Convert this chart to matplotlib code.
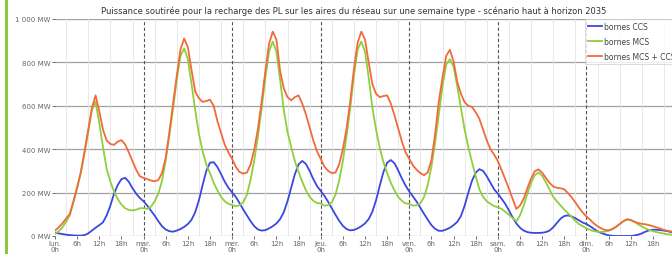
import numpy as np
import matplotlib
matplotlib.use("Agg")
import matplotlib.pyplot as plt
from matplotlib.lines import Line2D

# hourly values (MW), one row per day, monday -> sunday
bornes_ccs = [
    15, 12, 9, 6, 4, 3, 2, 2, 4, 12, 25, 38, 50, 63, 95, 140, 195, 235, 262, 268, 250, 220, 195, 175,
    160, 140, 117, 94, 68, 45, 30, 22, 20, 25, 32, 42, 55, 75, 110, 165, 235, 300, 338, 340, 318, 285, 250, 222,
    201, 180, 152, 122, 95, 68, 45, 30, 25, 27, 35, 45, 58, 78, 110, 160, 222, 285, 330, 346, 332, 300, 262, 230,
    208, 185, 158, 128, 98, 70, 47, 32, 26, 28, 35, 45, 58, 78, 112, 165, 232, 295, 338, 350, 335, 302, 265, 232,
    205, 182, 158, 130, 102, 75, 50, 33, 24, 24, 30, 38, 50, 65, 92, 140, 200, 255, 292, 308, 300, 275, 245, 215,
    195, 172, 148, 118, 86, 58, 38, 25, 18, 15, 14, 14, 15, 18, 25, 40, 60, 80, 92, 95, 90, 82, 72, 62,
    55, 45, 33, 22, 14, 8, 3, 1, 0, 0, 0, 0, 0, 2, 6, 12, 20, 26, 29, 29, 27, 25, 22, 18,
]
bornes_mcs = [
    10, 22, 40, 65, 95, 155, 220, 290, 380, 480, 580, 618, 520, 410, 310, 250, 205, 170, 145, 128, 120, 118, 121, 128,
    128, 125, 135, 160, 195, 255, 350, 465, 590, 720, 830, 865, 815, 700, 580, 470, 390, 330, 290, 245, 210, 180, 160, 148,
    143, 137, 142, 155, 190, 260, 350, 460, 590, 730, 850, 896, 850, 720, 580, 480, 410, 345, 295, 250, 210, 180, 162, 152,
    150, 140, 142, 155, 190, 255, 345, 460, 590, 740, 860, 896, 850, 730, 590, 490, 405, 340, 290, 245, 210, 180, 162, 150,
    148, 140, 142, 150, 180, 235, 320, 430, 560, 690, 790, 815, 780, 690, 590, 490, 410, 340, 275, 215, 180, 160, 148, 138,
    132, 125, 112, 98, 82, 68, 95, 140, 195, 245, 280, 293, 278, 248, 215, 180, 160, 140, 122, 105, 88, 70, 55, 45,
    35, 28, 22, 20, 19, 20, 24, 32, 42, 55, 68, 76, 74, 65, 54, 44, 35, 28, 22, 18, 14, 11, 8, 6,
]
bornes_total = [
    25, 40, 58, 80, 102, 160, 225, 295, 390, 490, 590, 648, 575, 490, 440, 424, 420, 435, 442, 422, 385, 345, 305, 275,
    268, 262, 256, 252, 258, 290, 360, 480, 610, 740, 860, 910, 870, 765, 665, 635, 618, 622, 628, 600, 530, 475, 420, 385,
    355, 318, 295, 288, 292, 330, 400, 495, 620, 760, 885, 942, 905, 760, 680, 640, 625, 640, 648, 610, 560, 500, 440, 390,
    355, 320, 300, 290, 292, 330, 400, 495, 620, 770, 890, 942, 905, 800, 700, 655, 640, 645, 648, 610, 555, 495, 435, 385,
    355, 325, 305, 290, 280, 293, 350, 470, 620, 730, 830, 858, 805, 710, 655, 616, 600, 595, 570, 540, 490, 440, 400, 375,
    345, 305, 262, 218, 172, 125, 140, 172, 220, 265, 298, 307, 292, 268, 245, 228, 222, 220, 215, 198, 178, 155, 130, 108,
    90, 75, 58, 45, 35, 28, 26, 32, 42, 55, 68, 77, 74, 66, 60, 56, 54, 50, 45, 40, 34, 28, 24, 21,
]
jours = ["lun.", "mar.", "mer.", "jeu.", "ven.", "sam.", "dim."]
y_ticks = [0, 200, 400, 600, 800, 1000]
y_labels = ["0 MW", "200 MW", "400 MW", "600 MW", "800 MW", "1 000 MW"]

heures = np.arange(len(bornes_ccs))

W, H = 672, 255
fig = plt.figure(figsize=(W / 100, H / 100), dpi=100)
ax = fig.add_axes([55 / W, 18 / H, 620 / W, 217 / H])

ax.plot(heures, bornes_ccs, color="#3a47e0", lw=1.3, label="bornes CCS")
ax.plot(heures, bornes_mcs, color="#8fcf3c", lw=1.3, label="bornes MCS")
ax.plot(heures, bornes_total, color="#f26a3c", lw=1.3, label="bornes MCS + CCS")

ax.set_xlim(0, 168)
ax.set_ylim(0, 1000)

# ticks every 6h, day name on midnight
ticks = np.arange(0, 168, 6)
labels = []
for t in ticks:
    h = t % 24
    labels.append(f"{jours[t // 24]}\n0h" if h == 0 else f"{h}h")
ax.set_xticks(ticks)
ax.set_xticklabels(labels, fontsize=5, color="#666666", linespacing=0.9)
ax.set_yticks(y_ticks)
ax.set_yticklabels(y_labels, fontsize=5, color="#666666")
ax.tick_params(axis="both", length=2, width=0.6, color="#555555", pad=1)

# grid
for y in y_ticks:
    ax.axhline(y, color="#a0a0a0", lw=0.9, zorder=0)
for t in np.arange(3, 168, 6):
    ax.axvline(t, color="#e4e4e4", lw=0.6, zorder=0)
for d in range(1, 7):
    ax.axvline(24 * d, color="#555555", lw=0.8, dashes=(3, 2), zorder=0.5)

for s in ax.spines.values():
    s.set_visible(False)

leg = ax.legend(loc="upper left", bbox_to_anchor=((585 - 55) / 620, 1.0), fontsize=5.5,
                frameon=True, fancybox=False, edgecolor="#cccccc", borderaxespad=0,
                handlelength=1.8, handletextpad=0.3, labelspacing=0.75, borderpad=0.4)
leg.get_frame().set_linewidth(0.6)
for txt in leg.get_texts():
    txt.set_color("#444444")

fig.text(354 / W, 1 - 11 / H, "Puissance soutirée pour la recharge des PL sur les aires du réseau sur une semaine type - scénario haut à horizon 2035",
         ha="center", va="center", fontsize=6.0, color="#333333")

# green border of the page on the left
fig.add_artist(Line2D([5.5 / W, 5.5 / W], [0, 1], color="#8dc63f", lw=2.2))

fig.savefig("out.png", dpi=100)
